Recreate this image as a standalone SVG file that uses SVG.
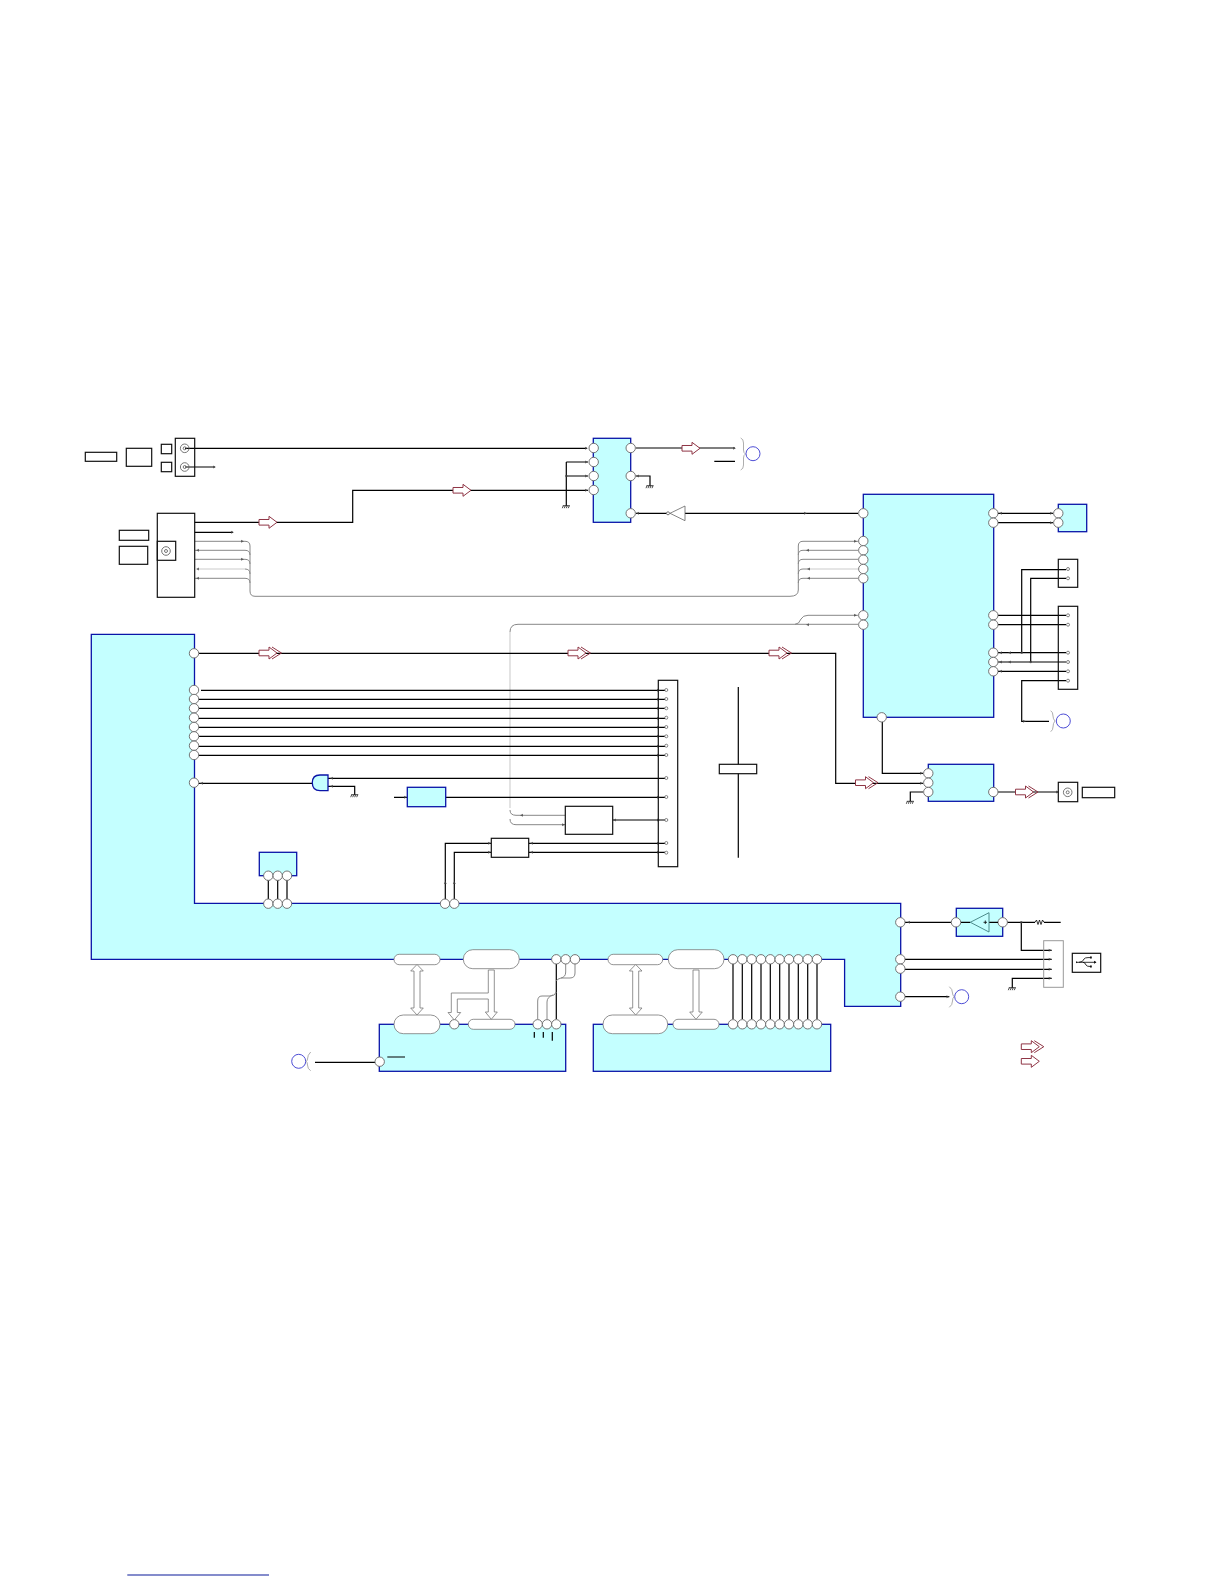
<svg xmlns="http://www.w3.org/2000/svg" width="1224" height="1584" viewBox="0 0 1224 1584">
<style>
.b{fill:#c4ffff;stroke:#0a14a8;stroke-width:1.3}
.k{fill:#fff;stroke:#111;stroke-width:1.2}
.n{fill:none;stroke:#111;stroke-width:1.2}
.w{fill:none;stroke:#000;stroke-width:1.2}
.g{fill:none;stroke:#888;stroke-width:1}
.lg{fill:none;stroke:#ddd;stroke-width:1.6}
.p{fill:#fff;stroke:#666;stroke-width:.9}
.pp{fill:#fff;stroke:#777;stroke-width:.8}
.s{fill:#fff;stroke:#666;stroke-width:.8}
.j{fill:none;stroke:#666;stroke-width:.9}
.c{fill:none;stroke:#3a3ad0;stroke-width:.9}
.br{fill:none;stroke:#999;stroke-width:.8}
.h{fill:#fff;stroke:#8f3545;stroke-width:1}
.f{fill:#fff;stroke:#777;stroke-width:.8}
.d{fill:#444;stroke:none;opacity:.75}
</style>
<defs>
<path id="gnd" class="w" style="stroke-width:.7" d="M-3.500 0H3.500M-3 0L-4 2.500M-1 0L-2 2.500M1 0L0 2.500M3 0L2 2.500"/>
<path id="s1" class="h" d="M0 -2.800H10V-6L18 0L10 6V2.800H0Z"/>
<g id="s2"><path class="h" d="M0 -2.800H10V-6L18 0L10 6V2.800H0Z"/><path class="h" style="fill:none" d="M13 -6L22.500 0L13 6"/></g>
</defs>

<g id="connectors">
<path class="w" d="M185 448.300H587M185 467H215M194.700 522.300H352.700V490.300H588M194.700 532.300H233"/>
<path class="g" d="M195 541.300H245Q250 541.300 250 546V591Q250 596.300 255 596.300H790Q798.300 596.300 798.300 590V546Q798.300 541.300 803 541.300H858"/>
<path class="g" d="M195 550.300H245Q250 550.300 250 555M195 559.300H245Q250 559.300 250 564M195 578.300H245Q250 578.300 250 583"/>
<path class="lg" d="M197 569H245"/><path class="g" d="M245 569Q250 569 250 574"/>
<path class="g" d="M798.300 555Q798.300 550.300 803 550.300H858M798.300 564Q798.300 559.300 803 559.300H858M798.300 583Q798.300 578.300 803 578.300H858M798.300 574Q798.300 569 803 569H810"/>
<path class="lg" d="M810 569H858"/>
<path class="g" d="M858 615.300H808Q803 615.300 801 619Q799 624.300 795 624.300H518Q510 624.300 510 632"/>
<path class="g" d="M795 624.300H858"/>
<path class="lg" d="M510 632V808"/>
<path class="g" d="M510 810Q510 815.300 516 815.300H565M510 819Q510 824.700 516 824.700H565"/>
<path class="w" d="M566.300 462V505.700M566.300 462H588M566.300 476H588M636 448H735M714.300 461.300H735M636 476H650V485.700M636 513.300H668M685 513.300H858"/>
<path class="w" d="M199 653.300H835.700V783.300H923M882.300 722V773.300H923M910.300 801.300V792H923M998 792H1058"/>
<path class="w" d="M998 513.300H1053M998 522.700H1053M998 615.300H1066M998 624.700H1066M998 652.700H1066M998 662H1066M998 671.300H1066M1021.700 653V569.700H1066M1030.700 662V578.300H1066M1066 680.700H1021.700V721.300H1049"/>
<path class="w" d="M201 690.300H665M199 699.300H665M199 708.300H665M199 718.300H665M199 727.300H665M199 736.300H665M199 746.300H665M199 755.300H665"/>
<path class="w" d="M199 783.300H313M328 778.300H665M328 786.300H354.700V794.700M394 797.300H407M445.700 797.300H665M612.700 820H665M445.300 899V843.300H491M454.300 899V852.300H491M529 843.300H665M529 852.300H665"/>
<path class="w" d="M268.300 880V899M277.700 880V899M287 880V899"/>
<path class="w" d="M733 964V1019M742.300 964V1019M751.700 964V1019M761 964V1019M770.300 964V1019M779.700 964V1019M789 964V1019M798.300 964V1019M807.700 964V1019M817 964V1019"/>
<path class="w" d="M556.300 964V1019"/>
<path class="g" d="M565.700 964V972Q565.700 977 561 978Q557 979 556.300 981M575 964V973Q575 978 570 978H561"/>
<path class="g" d="M556.300 992Q555 996 550 996H542Q537.700 996 537.700 1001V1019M553 995Q547 997 547 1002V1019"/>
<path class="w" d="M315 1062.300H375"/>
<path class="w" d="M905 922.300H951M1007 922.300H1035M1044 922.300H1060.700M1021.300 922.300V950.300H1051.700M905 959.300H1051.700M905 969.300H1051.700M1012.300 987.700V978.300H1051.700M905 996.700H949.300"/>
<path class="w" style="stroke-width:.8" d="M1035 922.300L1036.500 920L1038 924.500L1039.500 920L1041 924.500L1042.500 920L1044 922.300"/>
<g id="arrowheads" class="d">
<path d="M733 446.800L736 448.300L733 449.800ZM213 465.500L216 467L213 468.500ZM231 530.800L234 532.300L231 533.800ZM241 539.800L244 541.300L241 542.800ZM199 548.800L196 550.300L199 551.800ZM241 557.800L244 559.300L241 560.800ZM199 567.500L196 569L199 570.500ZM199 576.800L196 578.300L199 579.800Z"/>
<path d="M854 539.800L857 541.300L854 542.800ZM809 548.800L806 550.300L809 551.800ZM810 567.500L807 569L810 570.500ZM810 576.800L807 578.300L810 579.800ZM854 613.800L857 615.300L854 616.800ZM809 623.200L806 624.700L809 626.200Z"/>
<path d="M585 446.800L588 448.300L585 449.800ZM585 460.500L588 462L585 463.500ZM585 474.500L588 476L585 477.500ZM585 488.800L588 490.300L585 491.800ZM639 474.500L636 476L639 477.500ZM639 511.800L636 513.300L639 514.800ZM804 511.800L807 513.300L804 514.800Z"/>
<path d="M1002 511.800L999 513.300L1002 514.800ZM1050 511.800L1053 513.300L1050 514.800ZM1050 521.200L1053 522.700L1050 524.200ZM1002 651.200L999 652.700L1002 654.200ZM1002 660.500L999 662L1002 663.500ZM1002 669.800L999 671.300L1002 672.800ZM1011 651.200L1008 652.700L1011 654.200ZM1011 660.500L1008 662L1011 663.500Z"/>
<path d="M1023 719.800L1026 721.300L1023 722.800ZM920 771.800L923 773.300L920 774.800ZM920 781.800L923 783.300L920 784.800ZM1056 790.500L1059 792L1056 793.500Z"/>
<path d="M657 688.800L660 690.300L657 691.800ZM657 697.800L660 699.300L657 700.800ZM657 706.800L660 708.300L657 709.800ZM657 716.800L660 718.300L657 719.800ZM657 725.800L660 727.300L657 728.800ZM657 734.800L660 736.300L657 737.800ZM657 744.800L660 746.300L657 747.800ZM657 753.800L660 755.300L657 756.800ZM657 795.800L660 797.300L657 798.800ZM657 818.500L660 820L657 821.500ZM657 841.800L660 843.300L657 844.800ZM657 850.800L660 852.300L657 853.800Z"/>
<path d="M203 781.800L200 783.300L203 784.800ZM333 776.800L330 778.300L333 779.800ZM333 784.800L330 786.300L333 787.800ZM404 795.800L407 797.300L404 798.800ZM616 818.500L613 820L616 821.500ZM523 813.800L520 815.300L523 816.800ZM562 823.200L565 824.700L562 826.200Z"/>
<path d="M488 841.800L491 843.300L488 844.800ZM488 850.800L491 852.300L488 853.800ZM533 841.800L530 843.300L533 844.800ZM533 850.800L530 852.300L533 853.800ZM443.800 884L445.300 881L446.800 884ZM452.800 884L454.300 881L455.800 884Z"/>
<path d="M266.800 881L268.300 878L269.800 881ZM276.200 881L277.700 878L279.200 881ZM285.500 881L287 878L288.500 881Z"/>
<path d="M910 920.800L907 922.300L910 923.800ZM1048.700 948.800L1051.700 950.300L1048.700 951.800ZM1048.700 957.800L1051.700 959.300L1048.700 960.800ZM1048.700 967.800L1051.700 969.300L1048.700 970.800ZM1048.700 976.800L1051.700 978.300L1048.700 979.800ZM946.500 995.200L949.500 996.700L946.500 998.200Z"/>
<circle cx="566.300" cy="476" r="1.200"/><circle cx="1021.700" cy="652.700" r="1.200"/><circle cx="1030.700" cy="662" r="1.200"/><circle cx="1021.300" cy="922.300" r="1.200"/>
</g>
<use href="#gnd" x="566.300" y="505.700"/><use href="#gnd" x="650" y="485.700"/><use href="#gnd" x="354.700" y="794.700"/><use href="#gnd" x="910.300" y="801.300"/><use href="#gnd" x="1012.300" y="987.700"/>
<use href="#s1" x="259" y="522.300"/><use href="#s1" x="453" y="490.300"/><use href="#s1" x="682" y="448.300"/>
<use href="#s2" x="259" y="653"/><use href="#s2" x="568" y="653"/><use href="#s2" x="769" y="653"/><use href="#s2" x="855.500" y="782.700"/><use href="#s2" x="1015.500" y="792"/>
</g>

<g id="bigblock"><path class="b" d="M91.300 634.300H194.500V903.300H900.700V1006.300H844.600V959.300H91.300Z"/>
<circle class="p" cx="194" cy="653.300" r="4.700"/>
<circle class="p" cx="194" cy="690" r="4.700"/><circle class="p" cx="194" cy="699" r="4.700"/><circle class="p" cx="194" cy="708.300" r="4.700"/><circle class="p" cx="194" cy="717.700" r="4.700"/><circle class="p" cx="194" cy="727" r="4.700"/><circle class="p" cx="194" cy="736.300" r="4.700"/><circle class="p" cx="194" cy="745.700" r="4.700"/><circle class="p" cx="194" cy="755" r="4.700"/>
<circle class="p" cx="194" cy="782.700" r="4.700"/>
<circle class="p" cx="268.300" cy="903.700" r="4.700"/><circle class="p" cx="277.700" cy="903.700" r="4.700"/><circle class="p" cx="287" cy="903.700" r="4.700"/><circle class="p" cx="445" cy="903.700" r="4.700"/><circle class="p" cx="454.300" cy="903.700" r="4.700"/>
<circle class="p" cx="900.300" cy="922.300" r="4.700"/><circle class="p" cx="900.300" cy="959.300" r="4.700"/><circle class="p" cx="900.300" cy="968.700" r="4.700"/><circle class="p" cx="900.300" cy="996.700" r="4.700"/>
<rect class="pp" x="394" y="954.300" width="46" height="10.400" rx="5.200"/><rect class="pp" x="463.300" y="949.700" width="56" height="19" rx="9.500"/>
<rect class="pp" x="608" y="954.300" width="54.700" height="10.400" rx="5.200"/><rect class="pp" x="668.300" y="949.700" width="55.700" height="19" rx="9.500"/>
<circle class="p" cx="556.300" cy="959.300" r="4.700"/><circle class="p" cx="565.700" cy="959.300" r="4.700"/><circle class="p" cx="575" cy="959.300" r="4.700"/>
<circle class="p" cx="733" cy="959.300" r="4.700"/><circle class="p" cx="742.300" cy="959.300" r="4.700"/><circle class="p" cx="751.700" cy="959.300" r="4.700"/><circle class="p" cx="761" cy="959.300" r="4.700"/><circle class="p" cx="770.300" cy="959.300" r="4.700"/><circle class="p" cx="779.700" cy="959.300" r="4.700"/><circle class="p" cx="789" cy="959.300" r="4.700"/><circle class="p" cx="798.300" cy="959.300" r="4.700"/><circle class="p" cx="807.700" cy="959.300" r="4.700"/><circle class="p" cx="817" cy="959.300" r="4.700"/>
</g>

<g id="jack1"><rect class="k" x="85.300" y="452.300" width="31.400" height="9"/><rect class="k" x="126.300" y="448.300" width="25.400" height="18"/><rect class="k" x="161.300" y="444.300" width="10.400" height="9.400"/><rect class="k" x="161.300" y="462.300" width="10.400" height="9.400"/><rect class="n" x="175.300" y="438.300" width="19.400" height="38"/>
<circle class="j" cx="184.700" cy="448.300" r="4.300"/><circle class="j" cx="184.700" cy="448.300" r="1.500"/><circle class="j" cx="184.700" cy="467" r="4.300"/><circle class="j" cx="184.700" cy="467" r="1.500"/></g>

<g id="jack2"><rect class="k" x="119.300" y="530.300" width="29.400" height="10"/><rect class="k" x="119.300" y="546.300" width="28.400" height="18"/><rect class="n" x="157.300" y="513.300" width="37.400" height="84"/><rect class="n" x="157.300" y="541.300" width="18.400" height="19"/>
<circle class="j" cx="166" cy="551" r="4.300"/><circle class="j" cx="166" cy="551" r="1.500"/></g>

<g id="ic-top"><rect class="b" x="593.300" y="438.300" width="37.400" height="84"/>
<circle class="p" cx="593.700" cy="448" r="4.700"/><circle class="p" cx="593.700" cy="462" r="4.700"/><circle class="p" cx="593.700" cy="476" r="4.700"/><circle class="p" cx="593.700" cy="490" r="4.700"/><circle class="p" cx="630.700" cy="448" r="4.700"/><circle class="p" cx="630.700" cy="476" r="4.700"/><circle class="p" cx="630.700" cy="513.300" r="4.700"/></g>

<g id="inverter"><path class="s" d="M670 513.300L685 506V520.700Z"/><circle class="j" cx="668" cy="513.300" r="1.500" style="fill:#fff"/></g>

<g id="ref1"><path class="br" d="M740.700 438Q743.500 439 743.500 443V450Q743.500 453 745.500 454Q743.500 455 743.500 458V465Q743.500 469 740.700 470"/><circle class="c" cx="753" cy="453.700" r="7"/></g>

<g id="ic-main"><rect class="b" x="863.300" y="494.300" width="130.400" height="223"/>
<circle class="p" cx="863.300" cy="513.300" r="4.700"/><circle class="p" cx="863.300" cy="541" r="4.700"/><circle class="p" cx="863.300" cy="550.300" r="4.700"/><circle class="p" cx="863.300" cy="559.700" r="4.700"/><circle class="p" cx="863.300" cy="569" r="4.700"/><circle class="p" cx="863.300" cy="578.300" r="4.700"/><circle class="p" cx="863.300" cy="615.300" r="4.700"/><circle class="p" cx="863.300" cy="624.700" r="4.700"/>
<circle class="p" cx="993.300" cy="513.300" r="4.700"/><circle class="p" cx="993.300" cy="522.700" r="4.700"/><circle class="p" cx="993.300" cy="615.300" r="4.700"/><circle class="p" cx="993.300" cy="624.700" r="4.700"/><circle class="p" cx="993.300" cy="652.700" r="4.700"/><circle class="p" cx="993.300" cy="662" r="4.700"/><circle class="p" cx="993.300" cy="671.300" r="4.700"/><circle class="p" cx="881.700" cy="717.300" r="4.700"/></g>

<g id="ic-tr"><rect class="b" x="1058.300" y="504.300" width="28.400" height="27.400"/><circle class="p" cx="1058.300" cy="513.300" r="4.700"/><circle class="p" cx="1058.300" cy="522.700" r="4.700"/></g>

<g id="conn-a"><rect class="n" x="1058.300" y="559.300" width="19.400" height="28"/><circle class="s" cx="1068" cy="569" r="1.500"/><circle class="s" cx="1068" cy="578.300" r="1.500"/></g>
<g id="conn-b"><rect class="n" x="1058.300" y="606.300" width="19.400" height="83"/><circle class="s" cx="1068" cy="615.300" r="1.500"/><circle class="s" cx="1068" cy="624.700" r="1.500"/><circle class="s" cx="1068" cy="652.700" r="1.500"/><circle class="s" cx="1068" cy="662" r="1.500"/><circle class="s" cx="1068" cy="671.300" r="1.500"/><circle class="s" cx="1068" cy="680.700" r="1.500"/></g>
<g id="ref2"><path class="br" d="M1050.700 710.700Q1053 712 1053 716Q1053 719 1055 721Q1053 723 1053 727Q1053 730 1050.700 731.700"/><circle class="c" cx="1063.300" cy="721" r="7"/></g>

<g id="ic-out"><rect class="b" x="928.300" y="764.300" width="65.400" height="37"/><circle class="p" cx="928.300" cy="773.300" r="4.700"/><circle class="p" cx="928.300" cy="782.700" r="4.700"/><circle class="p" cx="928.300" cy="792" r="4.700"/><circle class="p" cx="993.300" cy="792" r="4.700"/></g>
<g id="jack3"><rect class="n" x="1058.300" y="782.300" width="19.400" height="19.400"/><circle class="j" cx="1067.700" cy="792.300" r="4.300"/><circle class="j" cx="1067.700" cy="792.300" r="1.500"/><rect class="k" x="1082.300" y="787.300" width="32.400" height="10.400"/></g>

<g id="panel-main"><rect class="n" x="658.300" y="680.300" width="19.400" height="186.400"/>
<circle class="s" cx="666.300" cy="690" r="1.500"/><circle class="s" cx="666.300" cy="699" r="1.500"/><circle class="s" cx="666.300" cy="708.300" r="1.500"/><circle class="s" cx="666.300" cy="717.700" r="1.500"/><circle class="s" cx="666.300" cy="727" r="1.500"/><circle class="s" cx="666.300" cy="736.300" r="1.500"/><circle class="s" cx="666.300" cy="745.700" r="1.500"/><circle class="s" cx="666.300" cy="755" r="1.500"/><circle class="s" cx="666.300" cy="778" r="1.500"/><circle class="s" cx="666.300" cy="797" r="1.500"/><circle class="s" cx="666.300" cy="820" r="1.500"/><circle class="s" cx="666.300" cy="843" r="1.500"/><circle class="s" cx="666.300" cy="852.700" r="1.500"/></g>

<g id="divider"><path class="w" d="M738.300 687V857.700"/><rect class="k" x="719.300" y="764.300" width="37.400" height="9.400"/></g>

<g id="and-gate"><path class="b" d="M328 775H320Q312.300 775 312.300 782.800Q312.300 790.700 320 790.700H328Z"/></g>
<g id="blue-small"><rect class="b" x="407.300" y="787.300" width="38.400" height="19.400"/></g>
<g id="box-a"><rect class="k" x="565.300" y="806.300" width="47.400" height="28"/></g>
<g id="box-b"><rect class="k" x="491.300" y="838.300" width="37.400" height="19"/></g>
<g id="ic-left"><rect class="b" x="259.300" y="852.300" width="37.400" height="23.400"/><circle class="p" cx="268.300" cy="875.700" r="4.700"/><circle class="p" cx="277.700" cy="875.700" r="4.700"/><circle class="p" cx="287" cy="875.700" r="4.700"/></g>

<g id="mem-a"><rect class="b" x="379.300" y="1024.300" width="186.400" height="47"/>
<rect class="pp" x="394" y="1015" width="46" height="18.700" rx="9.300"/><circle class="p" cx="454.300" cy="1024.300" r="4.700"/><rect class="pp" x="468.300" y="1019.300" width="46.700" height="10" rx="5"/>
<circle class="p" cx="537.700" cy="1024.300" r="4.700"/><circle class="p" cx="547" cy="1024.300" r="4.700"/><circle class="p" cx="556.300" cy="1024.300" r="4.700"/><circle class="p" cx="379.700" cy="1061.700" r="4.700"/>
<path class="w" d="M534.300 1032V1037.700M543.300 1032V1037.700M552.300 1032V1040.700M387.300 1057H405"/></g>
<g id="mem-b"><rect class="b" x="593.300" y="1024.300" width="237.400" height="47"/>
<rect class="pp" x="603" y="1015" width="64.700" height="18.700" rx="9.300"/><rect class="pp" x="673" y="1019.300" width="46" height="10" rx="5"/>
<circle class="p" cx="733" cy="1024.300" r="4.700"/><circle class="p" cx="742.300" cy="1024.300" r="4.700"/><circle class="p" cx="751.700" cy="1024.300" r="4.700"/><circle class="p" cx="761" cy="1024.300" r="4.700"/><circle class="p" cx="770.300" cy="1024.300" r="4.700"/><circle class="p" cx="779.700" cy="1024.300" r="4.700"/><circle class="p" cx="789" cy="1024.300" r="4.700"/><circle class="p" cx="798.300" cy="1024.300" r="4.700"/><circle class="p" cx="807.700" cy="1024.300" r="4.700"/><circle class="p" cx="817" cy="1024.300" r="4.700"/></g>

<g id="buses">
<path class="f" d="M417 964.500L423.300 971H420V1008H423.300L417 1015L410.700 1008H414V971H410.700Z"/>
<path class="f" d="M635.700 964.500L642 971H638.700V1008H642L635.700 1015L629.400 1008H632.700V971H629.400Z"/>
<path class="f" d="M693 970H699V1012H702.300L696 1019.300L689.700 1012H693Z"/>
<path class="f" d="M488.300 970H494.300V1012H497.300L491.300 1019.300L485.300 1012H488.300V999H457.300V1012.500H460.700L454.300 1020L448 1012.500H451.300V993H488.300Z"/>
</g>

<g id="ref3"><circle class="c" cx="298.700" cy="1061.300" r="7"/><path class="br" d="M310.700 1052Q307.500 1055 307.500 1059Q307.500 1061 306 1061.500Q307.500 1062 307.500 1065Q307.500 1069 310.700 1070.700"/></g>

<g id="amp"><rect class="b" x="956.300" y="908.300" width="46.400" height="28"/><circle class="p" cx="956" cy="922.300" r="4.700"/><circle class="p" cx="1002.700" cy="922.300" r="4.700"/>
<path class="w" d="M961 922.300H970.300M989 922.300H998"/><path d="M970.300 922.300L989 912.700V932Z" fill="none" stroke="#3f7f7f" stroke-width=".9"/><path class="w" style="stroke-width:.8" d="M983.500 922.300H987M985.300 920.500V924"/></g>

<g id="usb-conn"><rect x="1043.700" y="940.700" width="19.600" height="46.600" fill="none" stroke="#999" stroke-width="1"/><rect class="n" x="1072.300" y="953.300" width="28.400" height="19"/>
<path class="w" style="stroke-width:.8" d="M1076 962.300H1096M1079 962.300Q1083 962.300 1084 959Q1085 957.600 1088 957.600H1090M1083 962.300Q1085 962.300 1086 965Q1087 966.400 1089 966.400H1090"/><path fill="#111" d="M1096.500 962.300L1094 960.800V963.800ZM1090 956.600H1091.800V958.600H1090ZM1090 965.400H1091.800V967.400H1090ZM1076 961.300L1077.600 962.300L1076 963.300Z"/></g>
<g id="ref4"><path class="br" d="M949.300 986.700Q952.500 989 952.500 993Q952.500 995 954 996.700Q952.500 998 952.500 1001Q952.500 1005 949.300 1007.300"/><circle class="c" cx="961.700" cy="996.700" r="7"/></g>

<g id="legend"><use href="#s2" x="1021.300" y="1046.700"/><use href="#s1" x="1021.300" y="1061.300"/></g>
<path id="footer-rule" d="M127.300 1575H269" stroke="#0a1a9a" stroke-width="1.100" fill="none"/>
</svg>
